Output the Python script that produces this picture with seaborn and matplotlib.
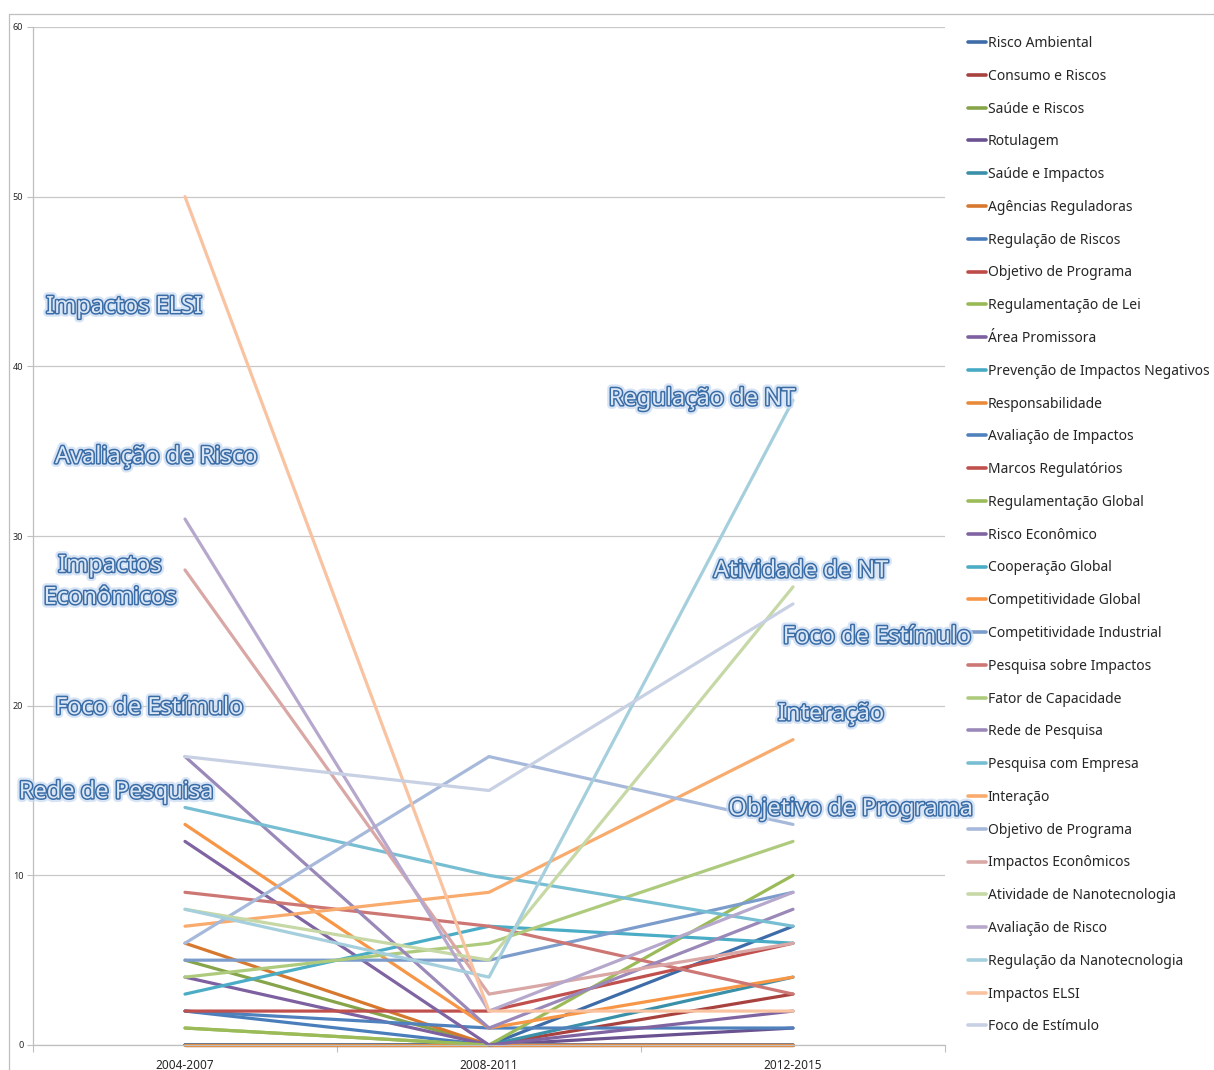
import numpy as np
import pandas as pd
import matplotlib
matplotlib.use('Agg')
import matplotlib.pyplot as plt
import matplotlib.patheffects as pe
from matplotlib.lines import Line2D
import seaborn as sns

sns.set_style('white')
plt.rcParams['font.family'] = ['Noto Sans', 'DejaVu Sans']

# periodos
periodos = ['2004-2007', '2008-2011', '2012-2015']

# series (ordem da legenda)
series = [
    'Risco Ambiental', 'Consumo e Riscos', 'Saúde e Riscos', 'Rotulagem',
    'Saúde e Impactos', 'Agências Reguladoras', 'Regulação de Riscos',
    'Objetivo de Programa', 'Regulamentação de Lei', 'Área Promissora',
    'Prevenção de Impactos Negativos', 'Responsabilidade',
    'Avaliação de Impactos', 'Marcos Regulatórios', 'Regulamentação Global',
    'Risco Econômico', 'Cooperação Global', 'Competitividade Global',
    'Competitividade Industrial', 'Pesquisa sobre Impactos',
    'Fator de Capacidade', 'Rede de Pesquisa', 'Pesquisa com Empresa',
    'Interação', 'Objetivo de Programa', 'Impactos Econômicos',
    'Atividade de Nanotecnologia', 'Avaliação de Risco',
    'Regulação da Nanotecnologia', 'Impactos ELSI', 'Foco de Estímulo',
]

v_2004 = [0, 0, 5, 0, 0, 6, 2, 0, 1, 4, 0, 0, 2, 2, 1, 12,
          3, 13, 5, 9, 4, 17, 14, 7, 6, 28, 8, 31, 8, 50, 17]
v_2008 = [0, 0, 0, 0, 0, 0, 0, 0, 0, 0, 0, 0, 1, 2, 0, 0,
          7, 1, 5, 7, 6, 1, 10, 9, 17, 3, 5, 2, 4, 2, 15]
v_2012 = [7, 3, 0, 1, 4, 0, 0, 0, 0, 0, 0, 0, 1, 6, 10, 2,
          6, 4, 9, 3, 12, 8, 7, 18, 13, 6, 27, 9, 38, 2, 26]

cores = [
    '#3D6CA8', '#A8423F', '#86A449', '#6A5190', '#3A90A8', '#D7782F',
    '#4A7EBB', '#BE4B48', '#98B954', '#7D60A0', '#46AAC5', '#E98A3A',
    '#4F81BD', '#C0504D', '#9BBB59', '#8064A2', '#4BACC6', '#F79646',
    '#7C9CCB', '#CD7775', '#AECB7D', '#9A88B8', '#77BED2', '#F9AB6E',
    '#A7B9DA', '#D9A7A5', '#C6D8A5', '#B6A8CC', '#A5CFDC', '#F9C3A1',
    '#C8D0E4',
]

fig = plt.figure(figsize=(12.14, 10.70), dpi=100)
ax = fig.add_axes([33 / 1214, 25 / 1070, 912 / 1214, 1018 / 1070])

for i, nome in enumerate(series):
    df = pd.DataFrame({'periodo': periodos,
                       'valor': [v_2004[i], v_2008[i], v_2012[i]]})
    sns.lineplot(data=df, x='periodo', y='valor', sort=False, ax=ax,
                 color=cores[i], linewidth=2.3, label=nome)

for ln in ax.get_lines():
    ln.set_clip_on(False)

ax.set_xlim(-0.5, 2.5)
ax.set_ylim(0, 60)
ax.set_yticks(range(0, 61, 10))
ax.set_xlabel('')
ax.set_ylabel('')

# ticks do eixo x entre as categorias
ax.set_xticks([-0.5, 0.5, 1.5, 2.5])
ax.set_xticklabels([])
ax.set_xticks([0, 1, 2], minor=True)
ax.set_xticklabels(periodos, minor=True, fontsize=8.5)
ax.tick_params(axis='x', which='major', direction='out', length=5,
               color='#BFBFBF', bottom=True)
ax.tick_params(axis='x', which='minor', length=0, pad=10)
ax.tick_params(axis='y', direction='out', length=4, color='#BFBFBF',
               labelsize=6.5, pad=3, left=True)

ax.grid(axis='y', color='#C8C8C8', linewidth=0.9)
ax.set_axisbelow(True)
for s in ['top', 'right']:
    ax.spines[s].set_visible(False)
for s in ['left', 'bottom']:
    ax.spines[s].set_color('#BFBFBF')
    ax.spines[s].set_linewidth(0.9)

leg = ax.legend(loc='upper left', bbox_to_anchor=(968 / 1214, 1 - 36 / 1070),
                bbox_transform=fig.transFigure, frameon=False, fontsize=10,
                handlelength=1.3, handletextpad=0.12, labelspacing=1.28,
                borderpad=0, borderaxespad=0)
for h in leg.get_lines():
    h.set_linewidth(2.6)

# rotulos em destaque
rotulos = [
    ('Impactos ELSI', -0.20, 43.5),
    ('Avaliação de Risco', -0.095, 34.65),
    ('Impactos\nEconômicos', -0.247, 27.3),
    ('Foco de Estímulo', -0.118, 19.86),
    ('Rede de Pesquisa', -0.227, 14.9),
    ('Regulação de NT', 1.70, 38.07),
    ('Atividade de NT', 2.026, 27.93),
    ('Foco de Estímulo', 2.276, 24.04),
    ('Interação', 2.125, 19.5),
    ('Objetivo de Programa', 2.19, 13.9),
]
efeitos = [pe.Stroke(linewidth=5.5, foreground='#C6D9F1', alpha=0.7),
           pe.Stroke(linewidth=2.2, foreground='#3A6CA6'),
           pe.Normal()]
for txt, x, y in rotulos:
    ax.text(x, y, txt, ha='center', va='center', fontsize=17,
            color='#DCE7F5', linespacing=1.45, path_effects=efeitos,
            zorder=10, clip_on=False)

# moldura da area do grafico
fig.add_artist(Line2D([9 / 1214, 1], [1 - 14 / 1070, 1 - 14 / 1070],
                      transform=fig.transFigure, color='#BFBFBF', lw=0.9))
fig.add_artist(Line2D([9 / 1214, 9 / 1214], [0, 1 - 14 / 1070],
                      transform=fig.transFigure, color='#BFBFBF', lw=0.9))

fig.savefig('out.png', dpi=100, facecolor='white')
